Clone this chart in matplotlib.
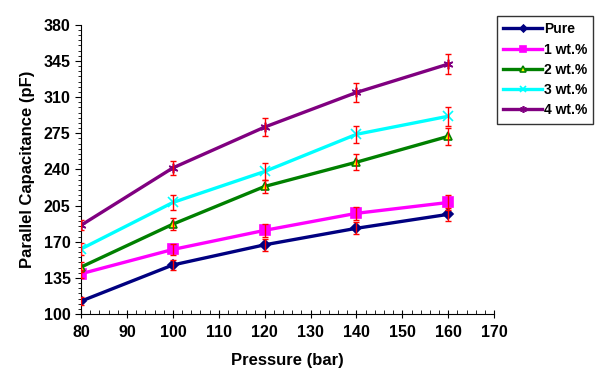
import matplotlib
matplotlib.use('Agg')
import matplotlib.pyplot as plt
from matplotlib.ticker import MultipleLocator, FixedLocator

plt.rcParams['font.family'] = ['Liberation Sans', 'DejaVu Sans']
plt.rcParams['font.weight'] = 'bold'

pressure = [80, 100, 120, 140, 160]
labels = ['Pure', '1 wt.%', '2 wt.%', '3 wt.%', '4 wt.%']
y_ticks = [100, 135, 170, 205, 240, 275, 310, 345, 380]

pure = [112.5, 147.5, 167, 183, 196.5]
wt1 = [139, 162.5, 181, 197.5, 208]
wt2 = [145.5, 187, 223.5, 247, 272]
wt3 = [163, 208, 238, 274, 291.5]
wt4 = [186, 241.5, 281, 314.5, 342]

err_pure = [4, 5, 6, 6, 6]
err_wt1 = [4, 5.5, 6, 6, 7]
err_wt2 = [5, 6, 6.5, 7.5, 8]
err_wt3 = [6, 7, 8, 8, 9]
err_wt4 = [5, 7, 9, 9.5, 10]

series = [pure, wt1, wt2, wt3, wt4]
errors = [err_pure, err_wt1, err_wt2, err_wt3, err_wt4]
colors = ['#000080', '#FF00FF', '#008000', '#00FFFF', '#800080']
markers = ['D', 's', '^', 'x', (6, 2, 0)]
msizes = [5, 6.5, 6, 7, 7]
mfaces = ['#000080', '#FF00FF', '#FFFF00', '#00FFFF', '#800080']

fig = plt.figure(figsize=(6.1, 3.82), dpi=100)
ax = fig.add_axes([0.133, 0.178, 0.677, 0.757])

for y, e, c, m, ms, mf, lab in zip(series, errors, colors, markers, msizes, mfaces, labels):
    ax.plot(pressure, y, color=c, lw=2.4, marker=m, markersize=ms,
            markerfacecolor=mf, markeredgecolor=c, markeredgewidth=1.2, label=lab, zorder=2)
    ax.errorbar(pressure, y, yerr=e, fmt='none', ecolor='red', elinewidth=1,
                capsize=2.5, capthick=1, zorder=3)

ax.set_xlim(80, 170)
ax.set_ylim(100, 380)
ax.xaxis.set_major_locator(MultipleLocator(10))
ax.xaxis.set_minor_locator(MultipleLocator(2))
ax.yaxis.set_major_locator(FixedLocator(y_ticks))
ax.yaxis.set_minor_locator(MultipleLocator(5))
ax.spines['top'].set_visible(False)
ax.spines['right'].set_visible(False)
ax.tick_params(axis='x', which='major', direction='inout', length=6, labelsize=11.5, pad=5)
ax.tick_params(axis='x', which='minor', direction='in', length=3)
ax.tick_params(axis='y', which='major', direction='out', length=4, labelsize=11.5)
ax.tick_params(axis='y', which='minor', direction='out', length=2.5)
for t in ax.get_xticklabels() + ax.get_yticklabels():
    t.set_fontweight('bold')

ax.set_xlabel('Pressure (bar)', fontsize=12, fontweight='bold', labelpad=9)
ax.set_ylabel('Parallel Capacitance (pF)', fontsize=12, fontweight='bold', labelpad=6)

leg = ax.legend(loc='upper left', bbox_to_anchor=(0.815, 0.958), bbox_transform=fig.transFigure,
                fontsize=10, frameon=True, fancybox=False, edgecolor='black',
                handlelength=2.8, handletextpad=0.1, labelspacing=0.45, borderpad=0.45,
                borderaxespad=0, markerscale=0.7)
leg.get_frame().set_linewidth(1)
for t in leg.get_texts():
    t.set_fontweight('bold')

fig.savefig('out.png', dpi=100)
